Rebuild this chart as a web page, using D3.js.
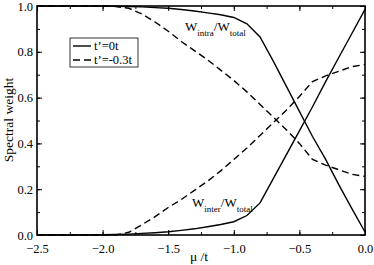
<!DOCTYPE html>
<html>
<head>
<meta charset="utf-8">
<script src="https://cdn.jsdelivr.net/npm/d3@7"></script>
<style>
  body { margin: 0; background: #fff; }
</style>
</head>
<body>
<svg id="chart" width="374" height="265"></svg>
<script>
// chemical potential mu/t, sampled every 0.1
var mu = [-2.5, -2.4, -2.3, -2.2, -2.1, -2.0, -1.9, -1.8, -1.7, -1.6, -1.5, -1.4, -1.3,
          -1.2, -1.1, -1.0, -0.9, -0.8, -0.7, -0.6, -0.5, -0.4, -0.3, -0.2, -0.1, 0.0];

// t'=0t
var intra0 = [1.0, 1.0, 1.0, 1.0, 1.0, 1.0, 0.999, 0.998, 0.996, 0.993, 0.99, 0.985, 0.978,
              0.97, 0.962, 0.95, 0.922, 0.865, 0.76, 0.65, 0.54, 0.43, 0.33, 0.22, 0.115, 0.013];
var inter0 = [0.0, 0.0, 0.0, 0.0, 0.0, 0.001, 0.002, 0.004, 0.007, 0.01, 0.014, 0.02, 0.027,
              0.036, 0.046, 0.058, 0.085, 0.14, 0.245, 0.35, 0.455, 0.56, 0.67, 0.775, 0.88, 0.985];

// t'=-0.3t
var intra3 = [1.0, 1.0, 1.0, 1.0, 1.0, 1.0, 0.998, 0.99, 0.965, 0.93, 0.89, 0.845, 0.805,
              0.765, 0.72, 0.675, 0.625, 0.57, 0.515, 0.46, 0.4, 0.33, 0.305, 0.285, 0.265, 0.256];
var inter3 = [0.0, 0.0, 0.0, 0.0, 0.0, 0.0, 0.0, 0.012, 0.045, 0.08, 0.12, 0.155, 0.195,
              0.235, 0.28, 0.33, 0.38, 0.435, 0.49, 0.545, 0.605, 0.67, 0.695, 0.715, 0.735, 0.745];

var xTicks = [-2.5, -2.0, -1.5, -1.0, -0.5, 0.0];
var yTicks = [0.0, 0.2, 0.4, 0.6, 0.8, 1.0];
var legendLabels = ["t\u2019=0t", "t\u2019=-0.3t"];

var serif = '"Liberation Serif", "Times New Roman", "DejaVu Serif", serif';

var margin = {left: 37, top: 6, right: 9, bottom: 30};
var width = 374 - margin.left - margin.right,
    height = 265 - margin.top - margin.bottom;

var svg = d3.select("#chart");
var g = svg.append("g").attr("transform", "translate(" + margin.left + "," + margin.top + ")");

var x = d3.scaleLinear().domain([-2.5, 0]).range([0, width]);
var y = d3.scaleLinear().domain([0, 1]).range([height, 0]);

var fmt = d3.format(".1f");
var minorX = d3.range(-2.5, 0.001, 0.25);
var minorY = d3.range(0, 1.001, 0.1);

function styleAxis(sel) {
  sel.attr("font-family", null).attr("font-size", null);
  sel.select(".domain").remove();
  sel.selectAll("line").attr("stroke", "#000").attr("stroke-width", 1);
  sel.selectAll("text").style("font-size", "12.5px");
}

// minor ticks on all sides
g.append("g").call(d3.axisBottom(x).tickValues(minorX).tickSize(-3).tickFormat(""))
  .attr("transform", "translate(0," + height + ")").call(styleAxis);
g.append("g").call(d3.axisTop(x).tickValues(minorX).tickSize(-3).tickFormat("")).call(styleAxis);
g.append("g").call(d3.axisLeft(y).tickValues(minorY).tickSize(-3).tickFormat("")).call(styleAxis);
g.append("g").call(d3.axisRight(y).tickValues(minorY).tickSize(-3).tickFormat(""))
  .attr("transform", "translate(" + width + ",0)").call(styleAxis);

// major ticks
g.append("g").call(d3.axisBottom(x).tickValues(xTicks).tickSize(-5).tickPadding(9).tickFormat(fmt))
  .attr("transform", "translate(0," + height + ")").call(styleAxis);
g.append("g").call(d3.axisTop(x).tickValues(xTicks).tickSize(-5).tickFormat("")).call(styleAxis);
g.append("g").call(d3.axisLeft(y).tickValues(yTicks).tickSize(-5).tickPadding(4).tickFormat(fmt)).call(styleAxis);
g.append("g").call(d3.axisRight(y).tickValues(yTicks).tickSize(-5).tickFormat(""))
  .attr("transform", "translate(" + width + ",0)").call(styleAxis);

// curves
var line = d3.line().x(function(d) { return x(d[0]); }).y(function(d) { return y(d[1]); });
var series = [
  {vals: intra0, dash: null},
  {vals: inter0, dash: null},
  {vals: intra3, dash: "7,4"},
  {vals: inter3, dash: "7,4"}
];
series.forEach(function(s) {
  g.append("path")
    .datum(d3.zip(mu, s.vals))
    .attr("d", line)
    .attr("fill", "none")
    .attr("stroke", "#000")
    .attr("stroke-width", 1.4)
    .attr("stroke-dasharray", s.dash);
});

// frame
g.append("rect").attr("width", width).attr("height", height)
  .attr("fill", "none").attr("stroke", "#000").attr("stroke-width", 1.6);

// legend
var leg = svg.append("g").attr("transform", "translate(70,38)");
leg.append("rect").attr("width", 68).attr("height", 29)
  .attr("fill", "#fff").attr("stroke", "#000").attr("stroke-width", 0.8);
legendLabels.forEach(function(l, i) {
  var yy = 8 + i * 14;
  leg.append("line").attr("x1", 3).attr("x2", 21).attr("y1", yy).attr("y2", yy)
    .attr("stroke", "#000").attr("stroke-width", 1.4)
    .attr("stroke-dasharray", i ? "7,4" : null);
  leg.append("text").attr("x", 24).attr("y", yy + 4).style("font-size", "12.5px").text(l);
});

// curve labels
function ratioLabel(px, py, sub) {
  var t = svg.append("text").attr("x", px).attr("y", py).style("font-size", "13px");
  t.append("tspan").text("W");
  t.append("tspan").attr("dy", 5).style("font-size", "9px").text(sub);
  t.append("tspan").attr("dy", -5).text("/W");
  t.append("tspan").attr("dy", 5).style("font-size", "9px").text("total");
}
ratioLabel(185, 31, "intra");
ratioLabel(192, 207, "inter");

// axis titles
svg.append("text").attr("x", 199).attr("y", 261).attr("text-anchor", "middle")
  .style("font-size", "13.5px").text("\u03bc /t");
svg.append("text").attr("transform", "translate(13,120) rotate(-90)").attr("text-anchor", "middle")
  .style("font-size", "13.5px").text("Spectral weight");

svg.selectAll("text").style("font-family", serif).attr("fill", "#000");
</script>
</body>
</html>
